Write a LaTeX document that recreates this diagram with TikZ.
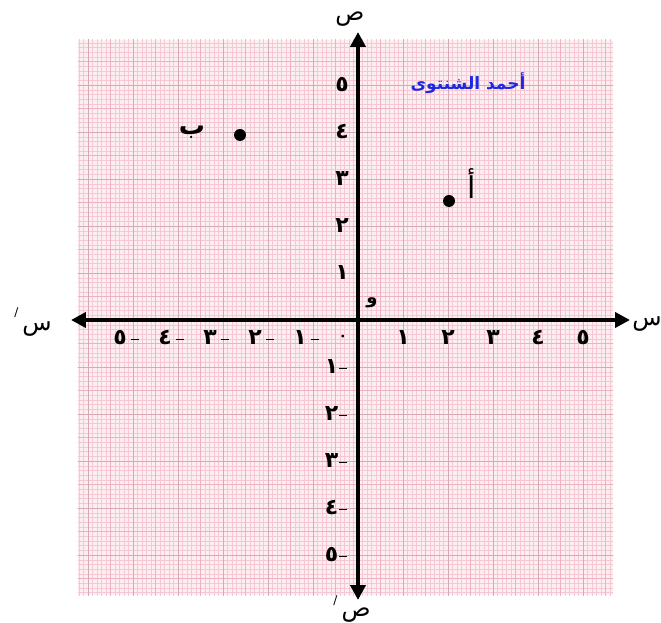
\documentclass[tikz,border=0pt]{standalone}
\usepackage{fontspec}
\TeXXeTstate=1
\newfontfamily\arabicfont[Script=Arabic]{DejaVu Sans}
\usetikzlibrary{arrows.meta}
\definecolor{paperbg}{RGB}{253,238,242}
\definecolor{fineline}{RGB}{245,200,212}
\definecolor{midline}{RGB}{236,178,194}
\definecolor{majorline}{RGB}{212,170,180}
\definecolor{namecol}{RGB}{30,40,220}
\newcommand{\negdash}{\rule[5pt]{8pt}{1.1pt}}
\begin{document}
\begin{tikzpicture}[x=1pt,y=1pt,
  axisline/.style={line width=3.8pt,{Triangle[length=15pt,width=15pt]}-{Triangle[length=15pt,width=15pt]}},
  num/.style={font=\arabicfont\bfseries\fontsize{22}{24}\selectfont, inner sep=0pt},
  lab/.style={font=\arabicfont\fontsize{24}{28}\selectfont, inner sep=0pt},
  dotpt/.style={circle, fill=black, inner sep=0pt, minimum size=12pt},
  namelab/.style={font=\arabicfont\bfseries\fontsize{17}{20}\selectfont, text=namecol, inner sep=0pt}]
\useasboundingbox (-358,-303) rectangle (303,320);
\fill[white] (-358,-303) rectangle (303,320);
% graph paper
\fill[paperbg] (-280,-275) rectangle (255,280);
\begin{scope}
\clip (-280,-275) rectangle (255,280);
\draw[fineline, line width=0.25pt, step={(4.5,4.7)}] (-290,-290) grid (260,290);
\draw[midline, line width=0.45pt, step={(22.5,23.5)}] (-290,-290) grid (260,290);
\draw[majorline, line width=0.6pt, step={(45,47)}] (-290,-290) grid (260,290);
\end{scope}
% axes
\coordinate (xl) at (-287,0);
\coordinate (xr) at (272,0);
\coordinate (yt) at (0,288);
\coordinate (yb) at (0,-280);
\draw[axisline] (xl) -- (xr);
\draw[axisline] (yb) -- (yt);
% axis labels
\node[lab] (ytop) at (-8,301) {\beginR ص\endR};
\node[lab] (ybot) at (-6,-289) {\raisebox{12pt}{\fontsize{12}{12}\selectfont/}\hspace{4pt}\beginR ص\endR};
\node[lab] (xright) at (289,-4) {\beginR س\endR};
\node[lab] (xleft) at (-325,-2) {\raisebox{14pt}{\fontsize{12}{12}\selectfont/}\hspace{4pt}\beginR س\endR};
\node[num, font=\arabicfont\bfseries\fontsize{18}{20}\selectfont] (origin) at (14,17) {\beginR و\endR};
\node[num, font=\arabicfont\bfseries\fontsize{14}{16}\selectfont] (zero) at (-15,-18) {٠};
% tick labels
\foreach \k/\d in {1/١,2/٢,3/٣,4/٤,5/٥} {
  \node[num] (xp\k) at (45*\k,-18) {\d};
  \node[num] (xn\k) at (-45*\k-7,-18) {\d\hspace{4pt}\negdash};
  \node[num] (yp\k) at (-16,47*\k) {\d};
  \node[num] (yn\k) at (-22,-47*\k) {\d\hspace{1pt}\negdash};
}
% points
\node[dotpt] (A) at (91,119) {};
\node[lab, font=\arabicfont\fontsize{30}{34}\selectfont] (Alab) at (114,136) {\beginR أ\endR};
\node[dotpt] (B) at (-118,185) {};
\node[lab, font=\arabicfont\bfseries\fontsize{26}{30}\selectfont] (Blab) at (-166,188) {\beginR ب\endR};
% name
\node[namelab] (name) at (110,237) {\beginR أحمد الشنتوى\endR};
\end{tikzpicture}
\end{document}
